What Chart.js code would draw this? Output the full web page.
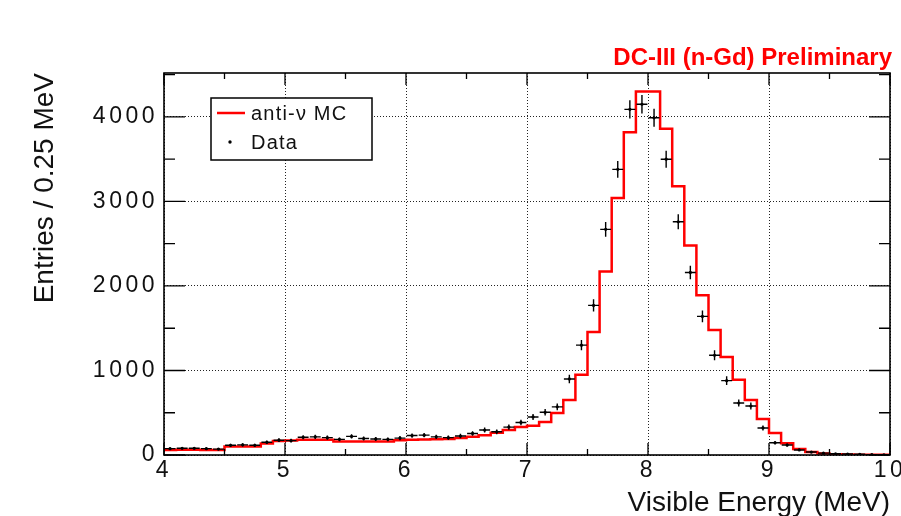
<!DOCTYPE html>
<html>
<head>
<meta charset="utf-8">
<script src="https://cdn.jsdelivr.net/npm/chart.js@4.4.0/dist/chart.umd.min.js"></script>
<style>
  html, body { margin: 0; padding: 0; background: #fff; }
  canvas { display: block; }
</style>
</head>
<body>
<canvas id="chart" width="901" height="516"></canvas>
<script>
'use strict';

// bin centres (MeV), 0.1 MeV wide bins
const binCenters = [
  4.05, 4.15, 4.25, 4.35, 4.45, 4.55, 4.65, 4.75, 4.85, 4.95,
  5.05, 5.15, 5.25, 5.35, 5.45, 5.55, 5.65, 5.75, 5.85, 5.95,
  6.05, 6.15, 6.25, 6.35, 6.45, 6.55, 6.65, 6.75, 6.85, 6.95,
  7.05, 7.15, 7.25, 7.35, 7.45, 7.55, 7.65, 7.75, 7.85, 7.95,
  8.05, 8.15, 8.25, 8.35, 8.45, 8.55, 8.65, 8.75, 8.85, 8.95,
  9.05, 9.15, 9.25, 9.35, 9.45, 9.55, 9.65, 9.75, 9.85, 9.95
];
const binWidth = 0.1;

// anti-nu MC histogram
const mcCounts = [
  60, 62, 62, 60, 60, 100, 100, 100, 135, 165,
  172, 180, 180, 180, 160, 160, 160, 160, 160, 175,
  180, 182, 185, 190, 200, 215, 235, 262, 295, 331,
  345, 390, 497, 650, 950, 1455, 2170, 3040, 3820, 4300,
  4300, 3860, 3180, 2480, 1890, 1480, 1160, 890, 650, 425,
  260, 140, 70, 35, 18, 10, 6, 4, 3, 2
];

// data points
const dataCounts = [
  75, 80, 80, 75, 70, 115, 120, 115, 150, 175,
  170, 210, 215, 205, 185, 220, 195, 190, 185, 200,
  230, 235, 215, 205, 225, 255, 295, 275, 330, 385,
  450, 505, 570, 900, 1300, 1770, 2670, 3380, 4090, 4150,
  3990, 3500, 2760, 2160, 1640, 1180, 880, 615, 580, 320,
  145, 118, 60, 35, 22, 14, 12, 8, 5, 3
];

const xTicks = [4, 4.5, 5, 5.5, 6, 6.5, 7, 7.5, 8, 8.5, 9, 9.5, 10];
const yTicks = [0, 500, 1000, 1500, 2000, 2500, 3000, 3500, 4000, 4500];

const FONT = '"Liberation Sans", Arial, Helvetica, sans-serif';

const mcPoints = mcCounts.map((v, i) => ({ x: binCenters[i] - binWidth / 2, y: v }));
mcPoints.push({ x: binCenters[binCenters.length - 1] + binWidth / 2, y: mcCounts[mcCounts.length - 1] });

const rootStyle = {
  id: 'rootStyle',
  beforeDraw(chart) {
    chart.ctx.letterSpacing = '3.5px';
  },
  beforeDatasetsDraw(chart) {
    chart.ctx.letterSpacing = '0px';
  },
  afterDatasetsDraw(chart) {
    const ctx = chart.ctx;
    const xs = chart.scales.x;
    const ys = chart.scales.y;
    const a = chart.chartArea;

    ctx.save();
    // error bars
    ctx.strokeStyle = '#000';
    ctx.lineWidth = 1.4;
    dataCounts.forEach((v, i) => {
      const c = binCenters[i];
      const err = 1.7 * Math.sqrt(v);
      const px = xs.getPixelForValue(c);
      ctx.beginPath();
      ctx.moveTo(xs.getPixelForValue(c - 0.045), ys.getPixelForValue(v));
      ctx.lineTo(xs.getPixelForValue(c + 0.045), ys.getPixelForValue(v));
      ctx.moveTo(px, ys.getPixelForValue(Math.max(0, v - err)));
      ctx.lineTo(px, ys.getPixelForValue(v + err));
      ctx.stroke();
    });

    // frame
    ctx.lineWidth = 1.6;
    ctx.strokeRect(a.left, a.top, a.right - a.left, a.bottom - a.top);

    // inward ticks
    ctx.lineWidth = 1.3;
    ctx.beginPath();
    xTicks.forEach(v => {
      const px = xs.getPixelForValue(v);
      const len = Number.isInteger(v) ? 12 : 6;
      ctx.moveTo(px, a.bottom); ctx.lineTo(px, a.bottom - len);
      ctx.moveTo(px, a.top); ctx.lineTo(px, a.top + len);
    });
    yTicks.forEach(v => {
      const py = ys.getPixelForValue(v);
      const len = v % 1000 === 0 ? 21 : 11;
      ctx.moveTo(a.left, py); ctx.lineTo(a.left + len, py);
      ctx.moveTo(a.right, py); ctx.lineTo(a.right - len, py);
    });
    ctx.stroke();

    // legend
    ctx.fillStyle = '#fff';
    ctx.fillRect(211, 98, 161, 62);
    ctx.lineWidth = 1.5;
    ctx.strokeStyle = '#000';
    ctx.strokeRect(211, 98, 161, 62);
    ctx.strokeStyle = '#ff0000';
    ctx.lineWidth = 2.5;
    ctx.beginPath();
    ctx.moveTo(217, 113); ctx.lineTo(245, 113);
    ctx.stroke();
    ctx.fillStyle = '#000';
    ctx.beginPath();
    ctx.arc(230, 142, 1.7, 0, Math.PI * 2);
    ctx.fill();
    ctx.font = '20px ' + FONT;
    ctx.letterSpacing = '1.2px';
    ctx.textAlign = 'left';
    ctx.textBaseline = 'alphabetic';
    ctx.fillStyle = '#111';
    ctx.fillText('anti-\u03bd MC', 251, 120);
    ctx.fillText('Data', 251, 149);
    ctx.letterSpacing = '0px';

    // titles
    ctx.fillStyle = '#ff0000';
    ctx.font = 'bold 24px ' + FONT;
    ctx.textAlign = 'right';
    ctx.fillText('DC-III (n-Gd) Preliminary', 892, 65);

    ctx.fillStyle = '#111';
    ctx.font = '28px ' + FONT;
    ctx.fillText('Visible Energy (MeV)', 890, 511);

    ctx.translate(53, a.top);
    ctx.rotate(-Math.PI / 2);
    ctx.fillText('Entries / 0.25 MeV', 0, 0);
    ctx.restore();
  }
};

const ctx = document.getElementById('chart').getContext('2d');

const chart = new Chart(ctx, {
  type: 'scatter',
  data: {
    datasets: [
      {
        label: 'Data',
        data: dataCounts.map((v, i) => ({ x: binCenters[i], y: v })),
        pointRadius: 1.6,
        pointBackgroundColor: '#000',
        pointBorderWidth: 0,
        showLine: false,
        order: 0,
      },
      {
        label: 'anti-\u03bd MC',
        data: mcPoints,
        showLine: true,
        stepped: 'before',
        borderColor: '#ff0000',
        borderWidth: 2.5,
        pointRadius: 0,
        fill: false,
        order: 1,
      },
    ],
  },
  options: {
    responsive: false,
    animation: false,
    devicePixelRatio: 1,
    layout: { padding: { top: 73, right: 11, left: 0, bottom: 0 } },
    plugins: { legend: { display: false }, tooltip: { enabled: false } },
    scales: {
      x: {
        type: 'linear',
        min: 4,
        max: 10,
        afterBuildTicks: s => { s.ticks = xTicks.map(v => ({ value: v })); },
        afterFit: s => { s.height = 61; s.paddingLeft = 0; s.paddingRight = 0; },
        grid: {
          color: c => Number.isInteger(c.tick.value) ? '#222' : 'rgba(0,0,0,0)',
          lineWidth: 1,
          drawTicks: false,
        },
        border: { display: false, dash: [1, 2] },
        ticks: {
          callback: v => Number.isInteger(v) ? String(v) : '',
          font: { family: FONT, size: 23 },
          color: '#111',
          padding: 2,
          maxRotation: 0,
          autoSkip: false,
        },
      },
      y: {
        min: 0,
        max: 4520,
        afterBuildTicks: s => { s.ticks = yTicks.map(v => ({ value: v })); },
        afterFit: s => { s.width = 164; s.paddingTop = 0; s.paddingBottom = 0; },
        grid: {
          color: c => c.tick.value % 1000 === 0 ? '#222' : 'rgba(0,0,0,0)',
          lineWidth: 1,
          drawTicks: false,
        },
        border: { display: false, dash: [1, 2] },
        ticks: {
          callback: v => v % 1000 === 0 ? String(v) : '',
          font: { family: FONT, size: 23 },
          color: '#111',
          padding: 6,
          autoSkip: false,
        },
      },
    },
  },
  plugins: [rootStyle],
});
</script>
</body>
</html>
